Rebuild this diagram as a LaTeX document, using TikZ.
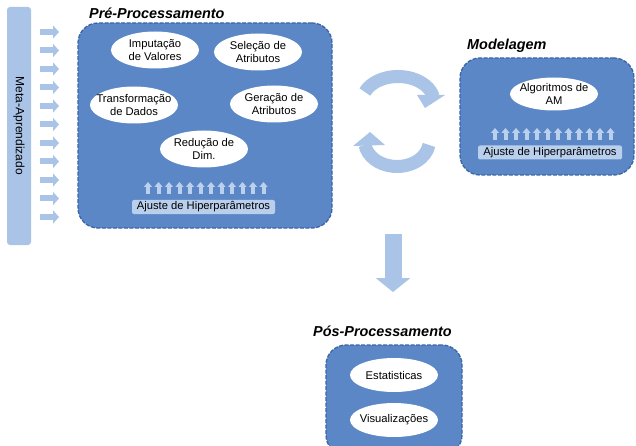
\documentclass[tikz,border=0pt]{standalone}
\usepackage{fontspec}
\setmainfont{Liberation Sans}
\usetikzlibrary{arrows.meta,positioning,shapes.geometric}

\definecolor{stageblue}{HTML}{5B87C6}
\definecolor{dashblue}{HTML}{3A66A6}
\definecolor{paleblue}{HTML}{A9C4E7}
\definecolor{tagblue}{HTML}{B9CFEC}

\begin{document}
\begin{tikzpicture}[x=1pt,y=1pt,
    font=\fontsize{11.2}{13}\selectfont,
    stage/.style={fill=stageblue,draw=dashblue,line width=1.3pt,dash pattern=on 4pt off 1.5pt,rounded corners=20pt},
    op/.style={ellipse,fill=white,inner sep=-8pt,minimum width=88pt,minimum height=37pt,align=center},
    tag/.style={fill=tagblue,rounded corners=2pt,inner sep=0pt,minimum height=14pt,minimum width=143pt},
    title/.style={font=\fontsize{14.4}{16}\selectfont\bfseries\itshape,anchor=base west,inner sep=0pt},
    tick/.style={paleblue!80!white,line width=4pt,-{Triangle[width=8pt,length=5pt]}},
    feed/.style={paleblue,line width=6pt,-{Triangle[width=13pt,length=6pt]}},
    band/.style={paleblue,line width=13pt}]

  \useasboundingbox (0,0) rectangle (636,-446);
  \clip (0,0) rectangle (636,-446);

  % meta-aprendizado
  \node[fill=paleblue,rounded corners=3pt,rotate=-90,minimum width=238pt,minimum height=24pt,inner sep=0pt,font=\fontsize{12}{14}\selectfont] (meta) at (19,-126) {Meta-Aprendizado};
  \foreach \y in {32,50.5,...,218}
    \draw[feed] (40,-\y) -- (59,-\y);

  % pre-processamento
  \node[stage,minimum width=254pt,minimum height=205pt] (pre) at (205,-125.5) {};
  \node[title] (tpre) at (89,-19) {Pré-Processamento};
  \node[op] (imp) at (155,-50) {Imputação\\de Valores};
  \node[op] (sel) at (258,-52) {Seleção de\\Atributos};
  \node[op] (trans) at (134,-105) {Transformação\\de Dados};
  \node[op] (ger) at (274,-104) {Geração de\\Atributos};
  \node[op] (red) at (204,-149) {Redução de\\Dim.};
  \foreach \x in {0,...,11}
    \draw[tick] (148+10.5*\x,-194) -- (148+10.5*\x,-182);
  \node[tag] (hpre) at (203.5,-207) {Ajuste de Hiperparâmetros};

  % ciclo
  \coordinate (c1) at (398,-102);
  \coordinate (c2) at (397,-141);
  \draw[band] ([shift={(157:36 and 25.5)}]c1) arc[start angle=157,end angle=12,x radius=36,y radius=25.5];
  \fill[paleblue] (417,-95) -- (445,-95) -- (425,-108) -- cycle;
  \draw[band] ([shift={(-9:32.4 and 25.5)}]c2) arc[start angle=-9,end angle=-171,x radius=32.4,y radius=25.5];
  \fill[paleblue] (353,-146) -- (385,-145) -- (370,-132) -- cycle;

  % modelagem
  \node[stage,minimum width=174pt,minimum height=117pt] (model) at (547,-116.5) {};
  \node[title] (tmod) at (467,-50) {Modelagem};
  \node[op,minimum height=33pt] (alg) at (554,-94) {Algoritmos de\\AM};
  \foreach \x in {0,...,11}
    \draw[tick] (495+10.5*\x,-140) -- (495+10.5*\x,-128);
  \node[tag,minimum width=144pt] (hmod) at (550,-152.5) {Ajuste de Hiperparâmetros};

  % pos-processamento
  \coordinate (d1) at (393,-234);
  \coordinate (d2) at (393,-292);
  \draw[paleblue,line width=17pt,-{Triangle[width=34pt,length=14pt]}] (d1) -- (d2);
  \node[stage,minimum width=136pt,minimum height=110pt] (pos) at (394,-400) {};
  \node[title] (tpos) at (313,-336) {Pós-Processamento};
  \node[op,minimum height=34pt] (est) at (394,-375) {Estatisticas};
  \node[op,minimum height=34pt] (vis) at (394,-420) {Visualizações};

\end{tikzpicture}
\end{document}
